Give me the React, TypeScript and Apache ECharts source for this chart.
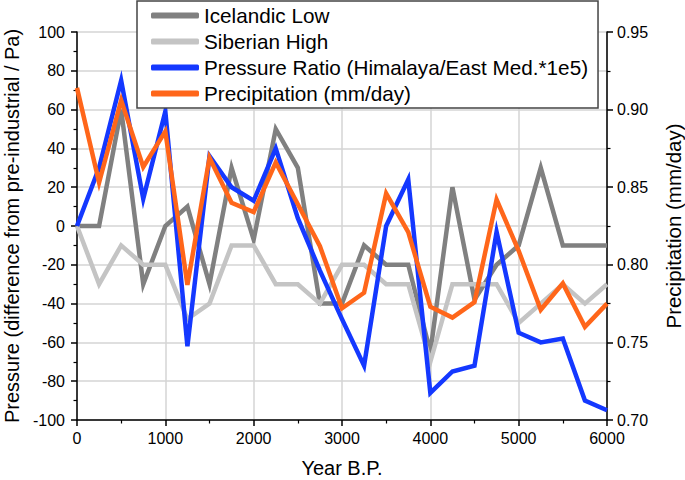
import React, { useEffect, useRef } from "react";
import * as echarts from "echarts";

const years = [0, 250, 500, 750, 1000, 1250, 1500, 1750, 2000, 2250, 2500, 2750, 3000, 3250, 3500, 3750, 4000, 4250, 4500, 4750, 5000, 5250, 5500, 5750, 6000];
const icelandicLow = [0, 0, 60, -30, 0, 10, -30, 30, -7, 50, 30, -40, -40, -10, -20, -20, -65, 20, -38, -20, -10, 30, -10, -10, -10];
const siberianHigh = [0, -30, -10, -20, -20, -48, -40, -10, -10, -30, -30, -40, -20, -20, -30, -30, -70, -30, -30, -30, -50, -40, -30, -40, -30];
const pressureRatio = [0, 30, 75, 14, 59, -62, 36, 20, 13, 40, 4, -23, -48, -72, 0, 24, -86, -75, -72, -3, -55, -60, -58, -90, -95];
const precipitation = [0.914, 0.853, 0.906, 0.863, 0.886, 0.787, 0.869, 0.84, 0.834, 0.866, 0.839, 0.812, 0.772, 0.782, 0.846, 0.821, 0.773, 0.766, 0.776, 0.842, 0.809, 0.771, 0.788, 0.76, 0.775];

const seriesNames = ["Icelandic Low", "Siberian High", "Pressure Ratio (Himalaya/East Med.*1e5)", "Precipitation (mm/day)"];
const seriesColors = ["#808080", "#c4c4c4", "#1438ff", "#ff661a"];

const FONT = "'Liberation Sans', Arial, sans-serif";

export default function App() {
  const ref = useRef<HTMLDivElement>(null);
  useEffect(() => {
    if (!ref.current) return;
    const chart = echarts.init(ref.current, null, { renderer: "svg" });
    const pairs = (vals: number[]) => years.map((y, i) => [y, vals[i]]);
    const datasets = [icelandicLow, siberianHigh, pressureRatio, precipitation];
    const axisCommon = {
      axisLine: { show: true, onZero: false, lineStyle: { color: "#000", width: 1.5 } },
      axisTick: { show: true, length: 6, inside: false, lineStyle: { color: "#000", width: 1.5 } },
      minorTick: { show: true, splitNumber: 2, length: 3.5, lineStyle: { color: "#000", width: 1.2 } },
      axisLabel: { color: "#000", fontSize: 16, fontFamily: FONT },
      nameTextStyle: { color: "#000", fontSize: 20, fontFamily: FONT },
    };
    chart.setOption({
      animation: false,
      backgroundColor: "#fff",
      textStyle: { fontFamily: FONT },
      grid: { left: 77, right: 78, top: 32, bottom: 60, containLabel: false, outerBoundsMode: "none" },
      legend: {
        orient: "vertical",
        left: 137,
        top: 1,
        padding: [4, 10, 4, 14],
        itemGap: 5,
        itemWidth: 48,
        itemHeight: 6,
        icon: "roundRect",
        borderColor: "#444",
        borderWidth: 1.5,
        backgroundColor: "#fff",
        data: seriesNames,
        textStyle: { color: "#000", fontSize: 20.7, lineHeight: 20, fontFamily: FONT, padding: [0, 0, 0, 0] },
        z: 10,
      },
      xAxis: {
        type: "value",
        min: 0,
        max: 6000,
        interval: 1000,
        name: "Year B.P.",
        nameLocation: "middle",
        nameGap: 38,
        ...axisCommon,
        axisLabel: { ...axisCommon.axisLabel, margin: 10, formatter: (v: number) => String(v) },
        splitLine: { show: true, lineStyle: { color: "#d4d4d4", width: 1.5 } },
      },
      yAxis: [
        {
          type: "value",
          min: -100,
          max: 100,
          interval: 20,
          position: "left",
          name: "Pressure (difference from pre-industrial / Pa)",
          nameLocation: "middle",
          nameGap: 54,
          nameRotate: 90,
          ...axisCommon,
          axisLabel: { ...axisCommon.axisLabel, margin: 12 },
          splitLine: { show: true, lineStyle: { color: "#d4d4d4", width: 1.5 } },
        },
        {
          type: "value",
          min: 0.7,
          max: 0.95,
          interval: 0.05,
          position: "right",
          name: "Precipitation (mm/day)",
          nameLocation: "middle",
          nameGap: 56,
          nameRotate: 90,
          ...axisCommon,
          nameTextStyle: { ...axisCommon.nameTextStyle, fontSize: 20.5 },
          axisLabel: {
            ...axisCommon.axisLabel,
            margin: 10,
            formatter: (v: number) => v.toFixed(2),
          },
          splitLine: { show: false },
        },
      ],
      series: datasets.map((vals, i) => ({
        name: seriesNames[i],
        type: "line",
        yAxisIndex: i === 3 ? 1 : 0,
        data: pairs(vals),
        showSymbol: false,
        symbol: "none",
        color: seriesColors[i],
        lineStyle: { color: seriesColors[i], width: 4.5, join: "miter", miterLimit: 6 },
        z: 2 + i,
      })),
    });
    return () => chart.dispose();
  }, []);
  return (
    <div
      ref={ref}
      style={{ position: "absolute", left: 0, top: 0, width: 685, height: 480 }}
    />
  );
}
